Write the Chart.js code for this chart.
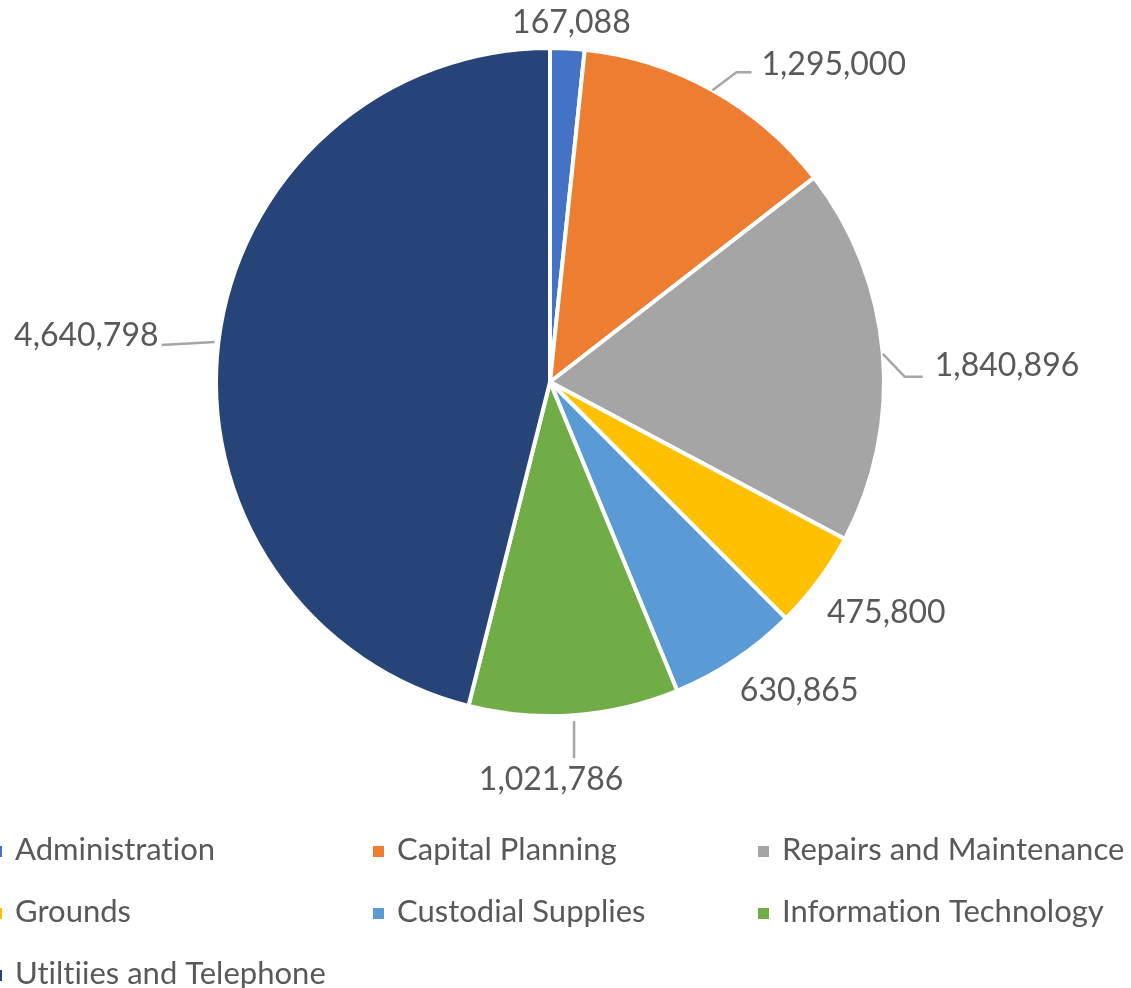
<!DOCTYPE html>
<html>
<head>
<meta charset="utf-8">
<script src="https://cdn.jsdelivr.net/npm/chart.js@4/dist/chart.umd.min.js"></script>
<style>
  html, body { margin: 0; padding: 0; background: #ffffff; }
  canvas { display: block; }
</style>
</head>
<body>
<canvas id="c" width="1131" height="988"></canvas>
<script>
// ---- Data ----
const categories = [
  "Administration",
  "Capital Planning",
  "Repairs and Maintenance",
  "Grounds",
  "Custodial Supplies",
  "Information Technology",
  "Utiltiies and Telephone"
];
const amounts = [167088, 1295000, 1840896, 475800, 630865, 1021786, 4640798];
const sliceColors = ["#4472C4", "#ED7D31", "#A5A5A5", "#FFC000", "#5B9BD5", "#70AD47", "#264478"];

// ---- Label layout (relative to each slice's outer-edge midpoint) ----
const labelPlacement = [
  { dx: 4,   dy: -26, align: "center", leader: null },
  { dx: 49,  dy: -26, align: "left",   leader: [[0, 0], [24, -18], [39, -18]] },
  { dx: 52,  dy: 12,  align: "left",   leader: [[0, 0], [22, 23], [40, 23]] },
  { dx: 68,  dy: 32,  align: "center", leader: null },
  { dx: 64,  dy: 31,  align: "center", leader: null },
  { dx: -23, dy: 65,  align: "center", leader: [[0, 6], [0, 43]] },
  { dx: -60, dy: -5,  align: "right",  leader: [[-4, 1], [-57, 4]] }
];
const legendCols = [-9, 373, 758];
const legendRows = [850, 912, 974];
const textColor = "#595959";
const leaderColor = "#A6A6A6";
const labelFont = "32px Lato";
const legendFont = "31px Lato";

const labelsPlugin = {
  id: "sliceLabels",
  afterDatasetsDraw(chart) {
    const ctx = chart.ctx;
    const meta = chart.getDatasetMeta(0);
    const ds = chart.data.datasets[0];
    ctx.save();
    meta.data.forEach((arc, i) => {
      const p = arc.getProps(["x", "y", "startAngle", "endAngle", "outerRadius"], true);
      const mid = (p.startAngle + p.endAngle) / 2;
      const ex = p.x + Math.cos(mid) * p.outerRadius;
      const ey = p.y + Math.sin(mid) * p.outerRadius;
      const pl = labelPlacement[i];
      if (pl.leader) {
        ctx.beginPath();
        ctx.strokeStyle = leaderColor;
        ctx.lineWidth = 2.5;
        pl.leader.forEach((pt, k) => {
          if (k === 0) ctx.moveTo(ex + pt[0], ey + pt[1]);
          else ctx.lineTo(ex + pt[0], ey + pt[1]);
        });
        ctx.stroke();
      }
      ctx.fillStyle = textColor;
      ctx.font = labelFont;
      ctx.textAlign = pl.align;
      ctx.textBaseline = "middle";
      ctx.fillText(ds.data[i].toLocaleString("en-US"), ex + pl.dx, ey + pl.dy);
    });
    // Legend
    ctx.font = legendFont;
    if ("letterSpacing" in ctx) ctx.letterSpacing = "0.01px"; // avoid ligatures
    ctx.textAlign = "left";
    ctx.textBaseline = "middle";
    chart.data.labels.forEach((lab, i) => {
      const col = i % 3, row = Math.floor(i / 3);
      const x = legendCols[col], y = legendRows[row];
      ctx.fillStyle = ds.backgroundColor[i];
      ctx.fillRect(x, y - 4, 11, 11);
      ctx.fillStyle = textColor;
      ctx.fillText(lab, x + 24, y);
    });
    ctx.restore();
  }
};

new Chart(document.getElementById("c"), {
  type: "pie",
  data: {
    labels: categories,
    datasets: [{
      data: amounts,
      backgroundColor: sliceColors,
      borderColor: "#ffffff",
      borderWidth: 4
    }]
  },
  options: {
    responsive: false,
    animation: false,
    layout: { padding: { top: 46, bottom: 270, left: 214, right: 245 } },
    plugins: {
      legend: { display: false },
      tooltip: { enabled: false }
    }
  },
  plugins: [labelsPlugin]
});
</script>
</body>
</html>
